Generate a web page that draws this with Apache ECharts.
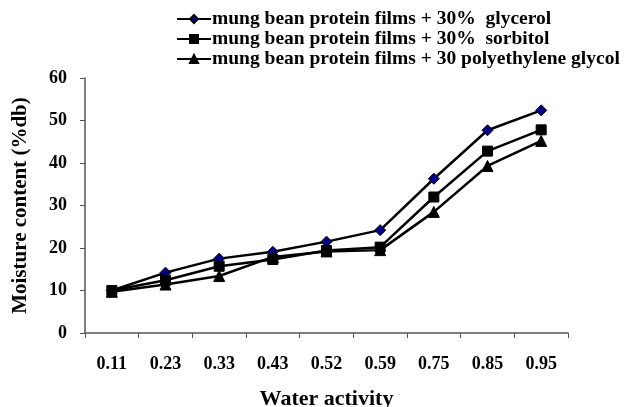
<!DOCTYPE html>
<html><head><meta charset="utf-8">
<script src="https://cdn.jsdelivr.net/npm/echarts@6/dist/echarts.min.js"></script>
<style>html,body{margin:0;padding:0;background:#fff}#c{width:626px;height:407px}</style>
</head><body><div id="c"></div>
<script>
const categories = ['0.11','0.23','0.33','0.43','0.52','0.59','0.75','0.85','0.95'];
const glycerol = [10.0, 14.2, 17.5, 19.1, 21.5, 24.2, 36.3, 47.7, 52.4];
const sorbitol = [10.0, 12.4, 15.7, 17.3, 19.4, 20.2, 32.0, 42.8, 47.8];
const peg = [9.7, 11.4, 13.4, 17.9, 19.2, 19.5, 28.5, 39.3, 45.2];
const seriesNames = ['mung bean protein films + 30%  glycerol','mung bean protein films + 30%  sorbitol','mung bean protein films + 30 polyethylene glycol'];
const yTicks = [0,10,20,30,40,50,60];

const font = 'Liberation Serif';
const chart = echarts.init(document.getElementById('c'));
const mk = (name, data, symbol, size, fill) => ({
  name, type: 'line', data, symbol, symbolSize: size,
  lineStyle: {color: '#000', width: 2.5},
  itemStyle: {color: fill, borderColor: '#000', borderWidth: 1},
  animation: false
});
chart.setOption({
  animation: false,
  legend: {
    orient: 'vertical', left: 171, top: 4, itemGap: 0, itemWidth: 34, itemHeight: 10,
    textStyle: {fontFamily: font, fontWeight: 'bold', fontSize: 19.5, lineHeight: 20, color: '#000', padding: [0,0,0,-4]},
    data: seriesNames
  },
  grid: {left: 85, right: 58, top: 78, bottom: 74, outerBoundsMode: 'none', containLabel: false},
  xAxis: {
    type: 'category', data: categories, boundaryGap: true,
    name: 'Water activity', nameLocation: 'middle', nameGap: 55,
    nameTextStyle: {fontFamily: font, fontWeight: 'bold', fontSize: 22, color: '#000'},
    axisLine: {lineStyle: {color: '#555', width: 1.5}},
    axisTick: {show: true, length: 5, inside: false, lineStyle: {color: '#555'}},
    axisLabel: {fontFamily: font, fontWeight: 'bold', fontSize: 18, color: '#000', margin: 22}
  },
  yAxis: {
    type: 'value', min: yTicks[0], max: yTicks[yTicks.length-1], interval: 10,
    name: 'Moisture content (%db)', nameLocation: 'middle', nameGap: 54,
    nameTextStyle: {fontFamily: font, fontWeight: 'bold', fontSize: 21, color: '#000'},
    axisLine: {show: true, lineStyle: {color: '#555', width: 1.5}},
    axisTick: {show: true, length: 5, lineStyle: {color: '#555'}},
    splitLine: {show: false},
    axisLabel: {fontFamily: font, fontWeight: 'bold', fontSize: 18, color: '#000', margin: 18}
  },
  series: [
    mk(seriesNames[0], glycerol, 'diamond', 11, '#000080'),
    mk(seriesNames[1], sorbitol, 'rect', 10, '#000'),
    mk(seriesNames[2], peg, 'triangle', 11, '#000')
  ]
});
</script></body></html>
